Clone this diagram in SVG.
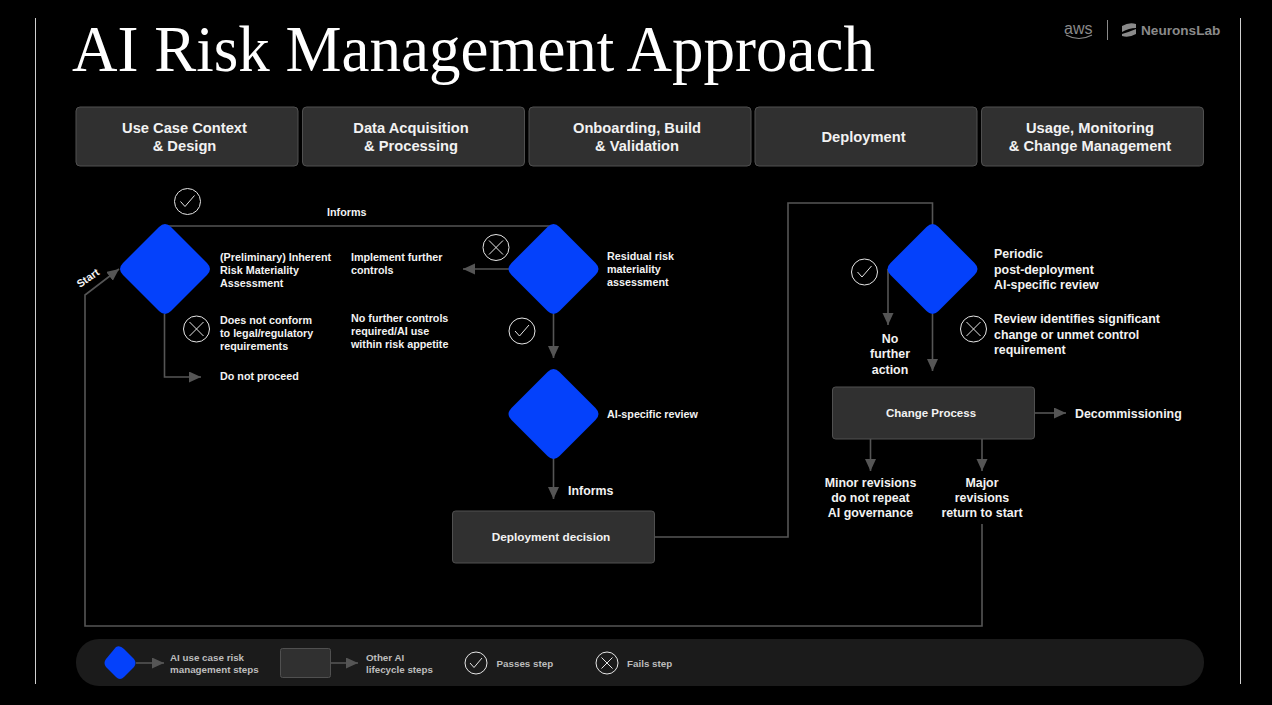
<svg xmlns="http://www.w3.org/2000/svg" width="1272" height="705" viewBox="0 0 1272 705">
<style>
text{font-family:"Liberation Sans",Arial,sans-serif;font-weight:700;fill:#f2f2f2}
.hd{font-size:14.7px;text-anchor:middle}
.s{font-size:10.75px}
.m{font-size:12.4px}
.c{font-size:12.4px;text-anchor:middle}
.l{font-size:9.8px;fill:#bdbdbd}
.box{fill:#303030;stroke:#505050;stroke-width:1}
.dia{fill:#0441fb}
.ln{fill:none;stroke:#555;stroke-width:1.6}
.ic{fill:none;stroke:#e6e6e6;stroke-width:1}
</style>
<defs>
<marker id="a" markerUnits="userSpaceOnUse" markerWidth="14" markerHeight="12" refX="12" refY="5.5" orient="auto"><path d="M0 0L12 5.500L0 11Z" fill="#555"/></marker>
<path id="dm" class="dia" d="M-6 -42Q0 -48 6 -42L42 -6Q48 0 42 6L6 42Q0 48 -6 42L-42 6Q-48 0 -42 -6Z"/>
<g id="ok"><circle class="ic" r="13"/><path class="ic" d="M-7 0L-2.500 5L7 -6"/></g>
<g id="no"><circle class="ic" r="13"/><path class="ic" d="M-7 -7L7 7M-7 7L7 -7"/></g>
<g id="oks"><circle class="ic" r="11"/><path class="ic" d="M-6 0L-2 4.500L6 -5"/></g>
<g id="nos"><circle class="ic" r="11"/><path class="ic" d="M-5.500 -5.500L5.500 5.500M-5.500 5.500L5.500 -5.500"/></g>
</defs>
<rect width="1272" height="705" fill="#000"/>
<path d="M35.500 18V684M1240.500 18V684" stroke="#d0d0d0" stroke-width="1"/>
<text x="72" y="71" textLength="803" lengthAdjust="spacingAndGlyphs" style="font-family:'Liberation Serif',serif;font-weight:400;font-size:66px;fill:#fff">AI Risk Management Approach</text>
<g id="logos">
<text x="1064" y="34" style="font-size:16px;font-weight:400;fill:#8a8a8a">aws</text>
<path d="M1066 35Q1079 42 1092 35" fill="none" stroke="#8a8a8a" stroke-width="1.200"/>
<path d="M1107.500 20V40" stroke="#8a8a8a"/>
<path d="M1122 26Q1129 22 1136 24V28Q1129 28 1122 32ZM1122 34Q1129 32 1136 29V34Q1129 38 1122 36Z" fill="#8a8a8a"/>
<text x="1141" y="35" style="font-size:13.600px;fill:#8a8a8a">NeuronsLab</text>
</g>
<g id="headers">
<g id="h1"><rect class="box" x="76" y="107" width="222" height="59" rx="4"/><text class="hd" x="184.500" y="133">Use Case Context</text><text class="hd" x="184.500" y="151">&amp; Design</text></g>
<g id="h2"><rect class="box" x="302.500" y="107" width="222" height="59" rx="4"/><text class="hd" x="411" y="133">Data Acquisition</text><text class="hd" x="411" y="151">&amp; Processing</text></g>
<g id="h3"><rect class="box" x="529" y="107" width="222" height="59" rx="4"/><text class="hd" x="637" y="133">Onboarding, Build</text><text class="hd" x="637" y="151">&amp; Validation</text></g>
<g id="h4"><rect class="box" x="755" y="107" width="222" height="59" rx="4"/><text class="hd" x="863.500" y="142">Deployment</text></g>
<g id="h5"><rect class="box" x="981.500" y="107" width="222" height="59" rx="4"/><text class="hd" x="1090" y="133">Usage, Monitoring</text><text class="hd" x="1090" y="151">&amp; Change Management</text></g>
</g>
<g id="connectors">
<path class="ln" d="M165 226H553.500"/>
<path class="ln" d="M164.500 314V377H201" marker-end="url(#a)"/>
<path class="ln" d="M509 269H463" marker-end="url(#a)"/>
<path class="ln" d="M553.500 314V358" marker-end="url(#a)"/>
<path class="ln" d="M553.500 458V499" marker-end="url(#a)"/>
<path class="ln" d="M655 537H788V203H932.500V226"/>
<path class="ln" d="M888 269V325" marker-end="url(#a)"/>
<path class="ln" d="M932.500 314V371" marker-end="url(#a)"/>
<path class="ln" d="M1035 413H1066" marker-end="url(#a)"/>
<path class="ln" d="M870.500 439V471" marker-end="url(#a)"/>
<path class="ln" d="M982 439V471" marker-end="url(#a)"/>
<path class="ln" d="M982 524V626H85V295L119 269" marker-end="url(#a)"/>
</g>
<g id="n1"><use href="#dm" x="165" y="269"/><text class="s" x="220" y="261">(Preliminary) Inherent</text><text class="s" x="220" y="274">Risk Materiality</text><text class="s" x="220" y="287">Assessment</text></g>
<g id="n2"><use href="#dm" x="553.500" y="269"/><text class="s" x="607" y="260">Residual risk</text><text class="s" x="607" y="273">materiality</text><text class="s" x="607" y="286">assessment</text></g>
<g id="n3"><use href="#dm" x="553.500" y="414"/><text class="s" x="607" y="418">AI-specific review</text></g>
<g id="n4"><use href="#dm" x="932.500" y="269"/><text class="m" x="994" y="258">Periodic</text><text class="m" x="994" y="274">post-deployment</text><text class="m" x="994" y="289">AI-specific review</text></g>
<g id="n5"><rect class="box" x="452.500" y="511" width="202" height="52" rx="3"/><text x="551" y="541" style="font-size:11.800px;text-anchor:middle">Deployment decision</text></g>
<g id="n6"><rect class="box" x="832.500" y="387" width="202" height="52" rx="3"/><text x="931" y="417" style="font-size:11.500px;text-anchor:middle">Change Process</text></g>
<g id="labels">
<use href="#ok" x="187.500" y="201.500"/><use href="#no" x="196.500" y="329"/><use href="#no" x="496" y="247.500"/><use href="#ok" x="522" y="331"/><use href="#ok" x="864.500" y="272"/><use href="#no" x="973.500" y="329"/>
<text class="s" x="327" y="216">Informs</text>
<text class="s" x="220" y="324">Does not conform</text><text class="s" x="220" y="337">to legal/regulatory</text><text class="s" x="220" y="350">requirements</text>
<text class="s" x="220" y="380">Do not proceed</text>
<text class="s" x="351" y="261">Implement further</text><text class="s" x="351" y="274">controls</text>
<text class="s" x="351" y="322">No further controls</text><text class="s" x="351" y="335">required/AI use</text><text class="s" x="351" y="348">within risk appetite</text>
<text x="568" y="495" style="font-size:12.400px">Informs</text>
<text class="s" transform="translate(80 288) rotate(-35)">Start</text>
<text class="m" x="994" y="323">Review identifies significant</text><text class="m" x="994" y="339">change or unmet control</text><text class="m" x="994" y="354">requirement</text>
<text class="c" x="890" y="343">No</text><text class="c" x="890" y="358">further</text><text class="c" x="890" y="374">action</text>
<text class="m" x="1075" y="418">Decommissioning</text>
<text class="c" x="870.500" y="487">Minor revisions</text><text class="c" x="870.500" y="502">do not repeat</text><text class="c" x="870.500" y="517">AI governance</text>
<text class="c" x="982" y="487">Major</text><text class="c" x="982" y="502">revisions</text><text class="c" x="982" y="517">return to start</text>
</g>
<g id="legend">
<rect x="76" y="639" width="1128" height="47" rx="23" fill="#1b1b1b"/>
<path class="dia" d="M116 647Q120 645 124 649L134 659Q137 663 134 667L124 677Q120 681 116 677L106 667Q103 663 106 659Z"/>
<path class="ln" d="M136 663H164" marker-end="url(#a)"/>
<text class="l" x="170" y="661">AI use case risk</text><text class="l" x="170" y="673">management steps</text>
<rect class="box" x="280.500" y="648.500" width="50" height="29" rx="2"/>
<path class="ln" d="M331 663H358" marker-end="url(#a)"/>
<text class="l" x="366" y="661">Other AI</text><text class="l" x="366" y="673">lifecycle steps</text>
<use href="#oks" x="476" y="663"/><text class="l" x="496.500" y="667">Passes step</text>
<use href="#nos" x="607" y="663"/><text class="l" x="627" y="667">Fails step</text>
</g>
</svg>
